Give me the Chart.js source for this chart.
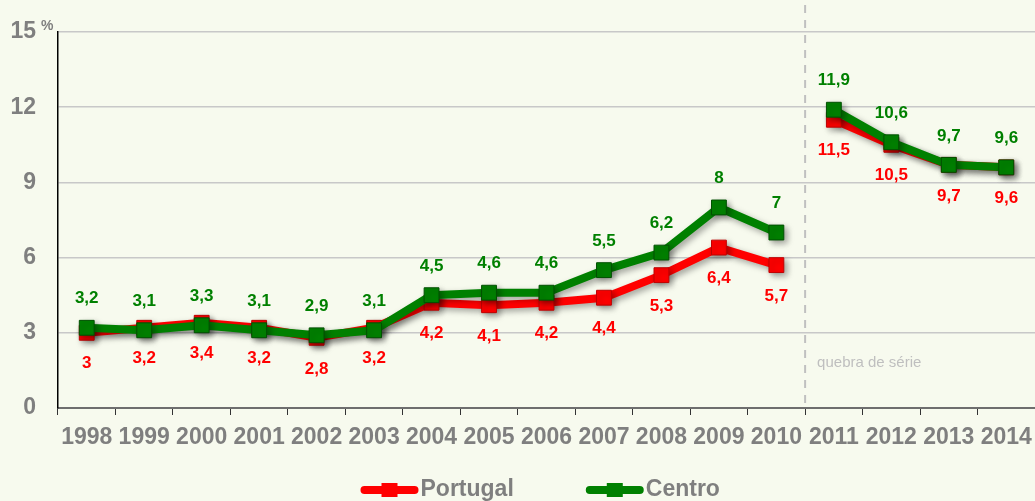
<!DOCTYPE html>
<html>
<head>
<meta charset="utf-8">
<script src="https://cdn.jsdelivr.net/npm/chart.js@4.4.0/dist/chart.umd.min.js"></script>
<style>
  body { margin: 0; background: #F7FAEE; }
  #wrap { width: 1035px; height: 501px; }
</style>
</head>
<body>
<div id="wrap"><canvas id="chart"></canvas></div>
<script>
const years = ["1998", "1999", "2000", "2001", "2002", "2003", "2004", "2005", "2006", "2007", "2008", "2009", "2010", "2011", "2012", "2013", "2014"];
const portugal = [3, 3.2, 3.4, 3.2, 2.8, 3.2, 4.2, 4.1, 4.2, 4.4, 5.3, 6.4, 5.7, 11.5, 10.5, 9.7, 9.6];
const centro = [3.2, 3.1, 3.3, 3.1, 2.9, 3.1, 4.5, 4.6, 4.6, 5.5, 6.2, 8, 7, 11.9, 10.6, 9.7, 9.6];
const yTicks = [0, 3, 6, 9, 12, 15];
const breakIndex = 12; // series break between 2010 and 2011

const red = "#FF0000";
const green = "#008000";
const grey = "#7F7F7F";
const FONT = "'Liberation Sans', Arial, sans-serif";

const shadowPlugin = {
  id: "shadow",
  beforeDatasetDraw(chart) {
    const ctx = chart.ctx;
    ctx.save();
    ctx.shadowColor = "rgba(0,0,0,0.35)";
    ctx.shadowBlur = 6;
    ctx.shadowOffsetX = 3;
    ctx.shadowOffsetY = 3;
  },
  afterDatasetDraw(chart) {
    chart.ctx.restore();
  }
};

const extrasPlugin = {
  id: "extras",
  beforeDatasetsDraw(chart) {
    const ctx = chart.ctx;
    const x = chart.scales.x;
    const area = chart.chartArea;
    const bx = (x.getPixelForValue(breakIndex) + x.getPixelForValue(breakIndex + 1)) / 2;
    ctx.save();
    ctx.strokeStyle = "#C0C0C0";
    ctx.lineWidth = 2;
    ctx.setLineDash([8, 7]);
    ctx.beginPath();
    ctx.moveTo(bx, 5);
    ctx.lineTo(bx, area.bottom);
    ctx.stroke();
    ctx.setLineDash([]);
    ctx.fillStyle = "#BFBFBF";
    ctx.font = "15px " + FONT;
    ctx.textBaseline = "middle";
    ctx.fillText("quebra de série", bx + 12, 363);
    ctx.restore();
  },
  afterDatasetsDraw(chart) {
    const ctx = chart.ctx;
    ctx.save();
    ctx.font = "bold 17px " + FONT;
    ctx.textAlign = "center";
    ctx.textBaseline = "middle";
    chart.data.datasets.forEach((ds, i) => {
      const meta = chart.getDatasetMeta(i);
      const above = ds.label === "Centro";
      ctx.fillStyle = ds.borderColor;
      meta.data.forEach((pt, j) => {
        const txt = String(ds.data[j]).replace(".", ",");
        ctx.fillText(txt, pt.x, above ? pt.y - 29 : pt.y + 31);
      });
    });
    // percent sign next to top tick
    const y = chart.scales.y;
    ctx.font = "bold 14px " + FONT;
    ctx.fillStyle = grey;
    ctx.textAlign = "left";
    ctx.fillText("%", 41, y.getPixelForValue(15) - 6);
    ctx.restore();
  },
  afterDraw(chart) {
    // legend: line with square marker + label
    const ctx = chart.ctx;
    const ly = 490;
    let lx = chart.width / 2 - 157;
    ctx.save();
    ctx.font = "bold 23px " + FONT;
    ctx.textBaseline = "middle";
    chart.data.datasets.forEach(ds => {
      ctx.strokeStyle = ds.borderColor;
      ctx.fillStyle = ds.borderColor;
      ctx.lineWidth = 8;
      ctx.lineCap = "round";
      ctx.beginPath();
      ctx.moveTo(lx + 4, ly);
      ctx.lineTo(lx + 54, ly);
      ctx.stroke();
      ctx.fillRect(lx + 21, ly - 7, 16, 14);
      ctx.fillStyle = grey;
      ctx.fillText(ds.label, lx + 60, ly);
      lx += 60 + ctx.measureText(ds.label).width + 72;
    });
    ctx.restore();
  }
};

function makeSet(label, data, color, dark, order) {
  return {
    label: label,
    data: data,
    order: order,
    borderColor: color,
    backgroundColor: color,
    borderWidth: 8,
    pointStyle: "rect",
    pointRadius: 10.5,
    pointHoverRadius: 10.5,
    pointBackgroundColor: color,
    pointBorderColor: dark,
    pointBorderWidth: 1,
    tension: 0,
    segment: {
      borderColor: c => c.p0DataIndex === breakIndex ? "rgba(0,0,0,0)" : color
    }
  };
}

new Chart(document.getElementById("chart"), {
  type: "line",
  data: {
    labels: years,
    datasets: [
      makeSet("Portugal", portugal, red, "#C00000", 2),
      makeSet("Centro", centro, green, "#005000", 1)
    ]
  },
  options: {
    responsive: true,
    maintainAspectRatio: false,
    animation: false,
    layout: { autoPadding: false, padding: { top: 32, right: 0, bottom: 45, left: 0 } },
    plugins: {
      tooltip: { enabled: false },
      legend: { display: false }
    },
    scales: {
      x: {
        offset: true,
        afterFit: s => { s.height = 48; s.paddingLeft = 0; s.paddingRight = 0; },
        grid: {
          offset: true,
          drawOnChartArea: false,
          drawTicks: true,
          tickLength: 7,
          tickColor: "#333333"
        },
        border: { color: "#6E6E6E", width: 2 },
        ticks: {
          color: grey,
          padding: 9,
          maxRotation: 0,
          autoSkip: false,
          font: { family: FONT, size: 23, weight: "bold" }
        }
      },
      y: {
        min: 0,
        max: 15,
        afterFit: s => { s.width = 58; s.paddingTop = 0; s.paddingBottom = 0; },
        afterBuildTicks: s => { s.ticks = yTicks.map(v => ({ value: v })); },
        grid: { color: "#C8C8C8", lineWidth: 1.5, drawTicks: false },
        border: { color: "#000000", width: 1.5 },
        ticks: {
          color: grey,
          padding: 22,
          font: { family: FONT, size: 23, weight: "bold" }
        }
      }
    }
  },
  plugins: [shadowPlugin, extrasPlugin]
});
</script>
</body>
</html>
